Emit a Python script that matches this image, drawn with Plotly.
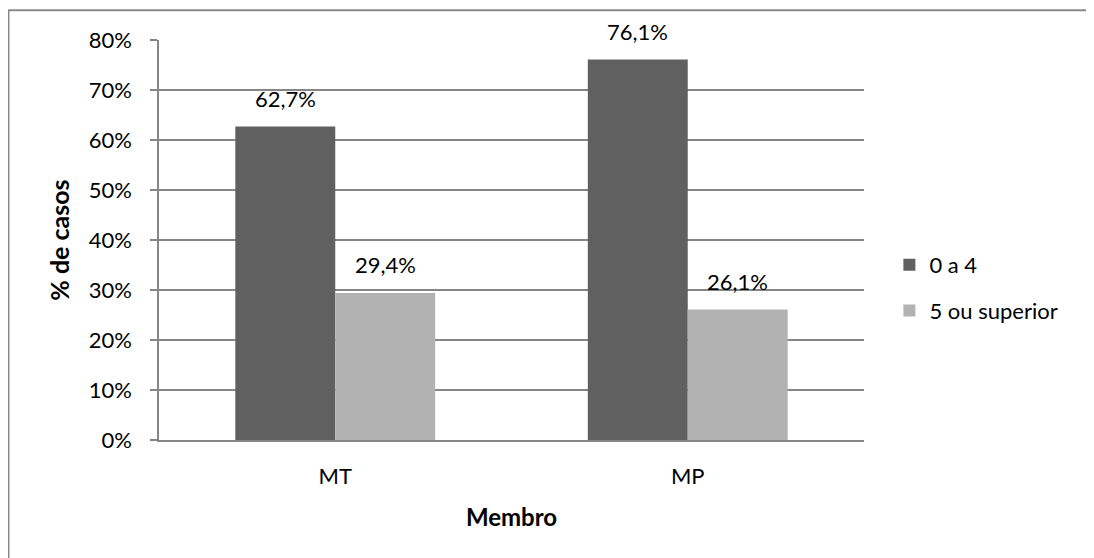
import plotly.graph_objects as go

categories = ["MT", "MP"]
series_names = ["0 a 4", "5 ou superior"]
values_0a4 = [0.627, 0.761]
values_5sup = [0.294, 0.261]
colors = ["#606060", "#B2B2B2"]
ytick_vals = [0, 0.1, 0.2, 0.3, 0.4, 0.5, 0.6, 0.7, 0.8]

FONT = "Lato, 'Open Sans', sans-serif"
FS = 22
fig = go.Figure()
all_vals = [values_0a4, values_5sup]
for i, (name, vals, col) in enumerate(zip(series_names, all_vals, colors)):
    fig.add_trace(go.Bar(
        x=categories, y=vals, name=name, marker=dict(color=col, line=dict(width=0)),
        legendgroup=name,
    ))

# data labels
for i, vals in enumerate(all_vals):
    shift = -50 if i == 0 else 50
    for c, v in zip(categories, vals):
        fig.add_annotation(
            x=c, y=v, xref="x", yref="y", text=f"{v*100:.1f}%".replace(".", ","),
            showarrow=False, yanchor="bottom", xshift=shift, yshift=13,
            font=dict(family=FONT, size=FS, color="#000000"),
        )

# chart border
fig.add_shape(type="rect", xref="paper", yref="paper",
              x0=-0.2135, x1=2, y0=-1, y1=1.0745,
              line=dict(color="#898989", width=2), layer="below")

fig.update_layout(
    width=1086, height=550,
    margin=dict(l=151, r=230, t=32, b=118),
    paper_bgcolor="white", plot_bgcolor="white",
    barmode="group", bargap=0.433, bargroupgap=0,
    separators=",.",
    font=dict(family=FONT, size=FS, color="#000000"),
    showlegend=True,
    legend=dict(x=1.036, y=0.38, xanchor="left", yanchor="middle",
                font=dict(family=FONT, size=FS), tracegroupgap=14,
                itemwidth=30, bgcolor="rgba(0,0,0,0)"),
    xaxis=dict(
        showline=True, linecolor="#868686", linewidth=1.5,
        ticks="", showgrid=False, tickfont=dict(size=FS),
        ticklabelstandoff=16,
        title=dict(text="<b>Membro</b>", font=dict(size=24), standoff=21),
    ),
    yaxis=dict(
        range=[0, 0.8], tickvals=ytick_vals, tickformat=".0%",
        showline=True, linecolor="#868686", linewidth=1.5,
        ticks="outside", ticklen=7, tickcolor="#868686", tickwidth=1.5,
        ticklabelstandoff=14,
        showgrid=True, gridcolor="#868686", gridwidth=1.5,
        zeroline=False, tickfont=dict(size=FS),
        title=dict(text="<b>% de casos</b>", font=dict(size=25), standoff=12),
    ),
)

fig.write_html("out.html")
